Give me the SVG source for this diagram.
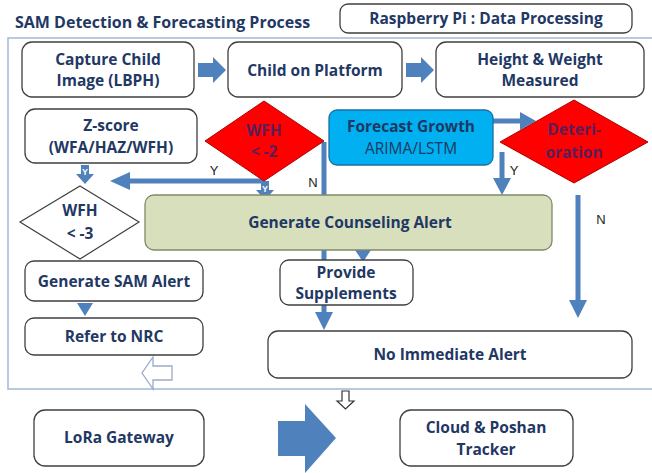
<svg xmlns="http://www.w3.org/2000/svg" width="652" height="473" viewBox="0 0 652 473">
<defs>
<style>
.box{fill:#fff;stroke:#3f3f3f;stroke-width:1.3}
.t{font-family:"Open Sans",Lato,"Liberation Sans",sans-serif;font-weight:bold;font-size:15.5px;fill:#1F3864;text-anchor:middle}
.lbl{font-family:"Liberation Sans",Arial,sans-serif;font-size:13px;fill:#222;text-anchor:middle}
.ln{stroke:#4F81BD;stroke-width:5;fill:none}
.ah{fill:#4F81BD}
</style>
</defs>
<rect width="652" height="473" fill="#fff"/>
<text x="15" y="28" style="font-family:'Open Sans',Lato,'Liberation Sans',sans-serif;font-weight:bold;font-size:16px;fill:#1F3864">SAM Detection &amp; Forecasting Process</text>
<g id="rpi"><rect class="box" x="340" y="4" width="292" height="29" rx="8"/><text class="t" x="486" y="24">Raspberry Pi : Data Processing</text></g>
<rect x="8" y="38" width="660" height="351" fill="none" stroke="#A8BCD8" stroke-width="1.6"/>

<g id="connectors">
<polygon class="ah" points="198,63 213,63 213,57 226,70 213,83 213,77 198,77"/>
<polygon class="ah" points="406,63 421,63 421,57 434,70 421,83 421,77 406,77"/>
<path class="ln" d="M263,181 H128"/>
<polygon class="ah" points="110,181 130,172 130,190"/>
<path class="ln" d="M324,142 V314"/>
<polygon class="ah" points="324,330 315,312 333,312"/>
<path class="ln" d="M493,121 H522"/>
<polygon class="ah" points="536,121 520,112 520,130"/>
<path class="ln" d="M502,152 V180"/>
<polygon class="ah" points="502,195 493,178 511,178"/>
<path class="ln" d="M578,195 V302"/>
<polygon class="ah" points="578,318 569,300 587,300"/>
<polygon class="ah" points="355,250 371,250 363,262"/>
<polygon class="ah" points="77,303 93,303 85,316"/>
<g id="ysmall1"><path d="M81,165 h8 v9 h5 l-9,10 l-9,-10 h5 z" fill="#4F81BD"/><text x="85" y="175" style="font-family:'Liberation Sans',sans-serif;font-weight:bold;font-size:9px;fill:#fff;text-anchor:middle">Y</text></g>
<g id="ysmall2"><path d="M261,181 h8 v9 h5 l-9,10 l-9,-10 h5 z" fill="#4F81BD"/><text x="265" y="192" style="font-family:'Liberation Sans',sans-serif;font-weight:bold;font-size:9px;fill:#fff;text-anchor:middle">Y</text></g>
<path d="M153,357 v9 h19 v14 h-19 v9 l-11,-16 z" fill="#fff" stroke="#9AAAC8" stroke-width="1.3"/>
<path d="M342,391 h7 v10 h5 l-8.5,8 l-8.5,-8 h5 z" fill="#fff" stroke="#333" stroke-width="1.2"/>
<polygon class="ah" points="278,421 305,421 305,404 336,438 305,473 305,456 278,456"/>
<text class="lbl" x="214" y="175">Y</text>
<text class="lbl" x="313" y="187">N</text>
<text class="lbl" x="514" y="175">Y</text>
<text class="lbl" x="601" y="224">N</text>
</g>

<g id="capture"><rect class="box" x="22" y="42" width="172" height="55" rx="10"/><text class="t" x="108" y="65">Capture Child</text><text class="t" x="108" y="86">Image (LBPH)</text></g>
<g id="platform"><rect class="box" x="228" y="42" width="174" height="55" rx="10"/><text class="t" x="315" y="76">Child on Platform</text></g>
<g id="measured"><rect class="box" x="436" y="42" width="208" height="55" rx="10"/><text class="t" x="540" y="65">Height &amp; Weight</text><text class="t" x="540" y="86">Measured</text></g>
<g id="zscore"><rect class="box" x="25" y="109" width="172" height="54" rx="10"/><text class="t" x="111" y="131">Z-score</text><text class="t" x="111" y="153">(WFA/HAZ/WFH)</text></g>
<g id="wfh2"><polygon points="264,101 324,141 264,181 205,141" fill="#FF0000" stroke="#B00000" stroke-width="1"/><text class="t" x="264" y="136" style="fill:#5A1E58">WFH</text><text class="t" x="264" y="157" style="fill:#5A1E58">&lt; -2</text></g>
<g id="forecast"><rect x="329" y="110" width="164" height="55" rx="8" fill="#00B0F0" stroke="#1A6FA3" stroke-width="1.3"/><text class="t" x="411" y="132">Forecast Growth</text><text class="t" x="411" y="154" style="font-weight:normal">ARIMA/LSTM</text></g>
<g id="deter"><polygon points="574,100 648,142 574,183 500,142" fill="#FF0000" stroke="#B00000" stroke-width="1"/><text class="t" x="574" y="135" style="fill:#5A1E58">Deteri-</text><text class="t" x="574" y="158" style="fill:#5A1E58">oration</text></g>
<g id="wfh3"><polygon points="80,186 139,222 80,259 20,222" fill="#fff" stroke="#3f3f3f" stroke-width="1.2"/><text class="t" x="80" y="216">WFH</text><text class="t" x="80" y="239">&lt; -3</text></g>
<g id="counsel"><rect x="145" y="195" width="407" height="55" rx="9" fill="#D7DFBC" stroke="#7F8A68" stroke-width="1.3"/><text class="t" x="350" y="228">Generate Counseling Alert</text></g>
<g id="supp"><rect class="box" x="280" y="260" width="133" height="45" rx="9"/><text class="t" x="346" y="278">Provide</text><text class="t" x="346" y="299">Supplements</text></g>
<g id="samalert"><rect class="box" x="25" y="261" width="178" height="40" rx="9"/><text class="t" x="114" y="287">Generate SAM Alert</text></g>
<g id="nrc"><rect class="box" x="25" y="318" width="178" height="37" rx="9"/><text class="t" x="114" y="342">Refer to NRC</text></g>
<g id="noalert"><rect class="box" x="268" y="331" width="364" height="47" rx="10"/><text class="t" x="450" y="360">No Immediate Alert</text></g>
<g id="lora"><rect class="box" x="34" y="410" width="170" height="56" rx="11"/><text class="t" x="119" y="443">LoRa Gateway</text></g>
<g id="cloud"><rect class="box" x="400" y="410" width="173" height="56" rx="11"/><text class="t" x="486" y="433">Cloud &amp; Poshan</text><text class="t" x="486" y="455">Tracker</text></g>
</svg>
